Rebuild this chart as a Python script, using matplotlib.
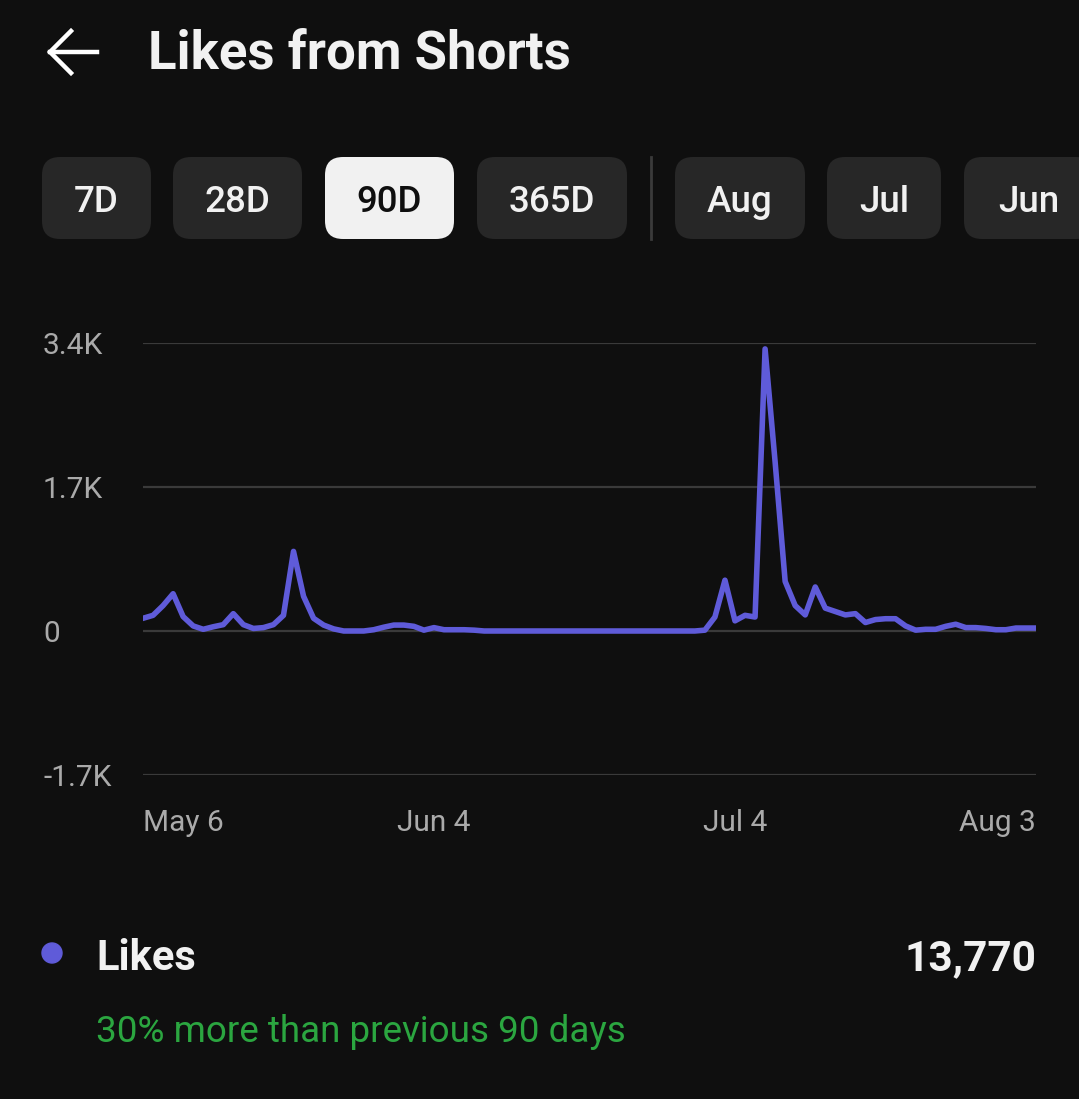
import matplotlib
matplotlib.use("Agg")
import matplotlib.pyplot as plt
from matplotlib.patches import FancyBboxPatch, Circle
from matplotlib.lines import Line2D
from matplotlib.transforms import IdentityTransform

# daily likes from May 6 to Aug 3 (90 days)
likes = [150, 185, 300, 440, 170, 60, 20, 50, 75, 205,
         75, 30, 40, 75, 185, 940, 410, 150, 70, 25,
         0, 0, 0, 15, 45, 70, 70, 55, 10, 40,
         15, 15, 15, 10] + [0] * 22 + \
        [10, 165, 600, 120, 185, 165, 3330, 1995, 585, 300,
         190, 520, 270, 230, 190, 205, 100, 135, 145, 145,
         60, 10, 20, 20, 55, 80, 40, 40, 30, 15,
         15, 35, 35, 35]
days = list(range(len(likes)))

x_ticks = [0, 29, 59, 89]
x_labels = ["May 6", "Jun 4", "Jul 4", "Aug 3"]
y_ticks = [-1700, 0, 1700, 3400]
y_labels = ["-1.7K", "0", "1.7K", "3.4K"]

buttons = ["7D", "28D", "90D", "365D", "Aug", "Jul", "Jun"]
button_x = [(42, 151), (173, 302), (325, 454), (477, 627), (675, 805), (827, 941), (964, 1094)]
selected = "90D"

total = "13,770"
compare = "30% more than previous 90 days"

BG = "#0f0f0f"
LINE = "#5f5bd9"
GRID = "#3a3a3a"
W, H = 1079, 1099

plt.rcParams['font.family'] = ['Roboto', 'DejaVu Sans']

fig = plt.figure(figsize=(W / 100, H / 100), dpi=100, facecolor=BG)

# chart area
ax = fig.add_axes([143 / W, 1 - 775 / H, (1036 - 143) / W, (775 - 343) / H])
ax.set_facecolor(BG)
ax.plot(days, likes, color=LINE, linewidth=4, solid_joinstyle='round', zorder=3)
ax.set_xlim(0, 89)
ax.set_ylim(-1700, 3400)
ax.set_yticks(y_ticks, y_labels)
ax.set_xticks(x_ticks, x_labels)
for v in y_ticks:
    ax.axhline(v, color=GRID, linewidth=1.6, zorder=1)
for s in ax.spines.values():
    s.set_visible(False)
ax.tick_params(axis='y', length=0, pad=72, labelsize=21.5, labelcolor="#aaaaaa")
ax.tick_params(axis='x', length=0, pad=24.5, labelsize=21.5, labelcolor="#aaaaaa")
for lab in ax.get_yticklabels():
    lab.set_horizontalalignment('left')
xl = ax.get_xticklabels()
xl[0].set_horizontalalignment('left')
xl[-1].set_horizontalalignment('right')

tr = IdentityTransform()

# back arrow
fig.add_artist(Line2D([50, 97], [H - 52, H - 52], color="white", linewidth=3.2, transform=tr))
fig.add_artist(Line2D([71, 50, 71], [H - 31, H - 52, H - 73], color="white", linewidth=3.2,
                      solid_joinstyle='miter', transform=tr))
fig.text(148 / W, 1 - 54 / H, "Likes from Shorts", color="#f1f1f1", fontsize=38,
         fontweight='bold', va='center', ha='left')

# range buttons
for name, (x0, x1) in zip(buttons, button_x):
    on = name == selected
    box = FancyBboxPatch((x0, H - 239), x1 - x0, 82, transform=tr,
                         boxstyle="round,pad=0,rounding_size=18",
                         facecolor="#f1f1f1" if on else "#272727", edgecolor='none')
    fig.add_artist(box)
    fig.text((x0 + x1) / 2 / W, 1 - 202 / H, name, color="#0f0f0f" if on else "#f1f1f1",
             fontsize=26.5, fontweight='medium', ha='center', va='center')
fig.add_artist(Line2D([651, 651], [H - 157, H - 239], color="#3a3a3a", linewidth=2, transform=tr))

# legend / summary
fig.add_artist(Circle((52, H - 953), 10, color=LINE, transform=tr))
fig.text(96 / W, 1 - 959 / H, "Likes", color="#f1f1f1", fontsize=30, fontweight='bold',
         ha='left', va='center')
fig.text(1036 / W, 1 - 959 / H, total, color="#f1f1f1", fontsize=30.5, fontweight='bold',
         ha='right', va='center')
fig.text(96 / W, 1 - 1032 / H, compare, color="#2ba640", fontsize=26.5,
         ha='left', va='center')

fig.savefig("out.png", dpi=100, facecolor=BG)
